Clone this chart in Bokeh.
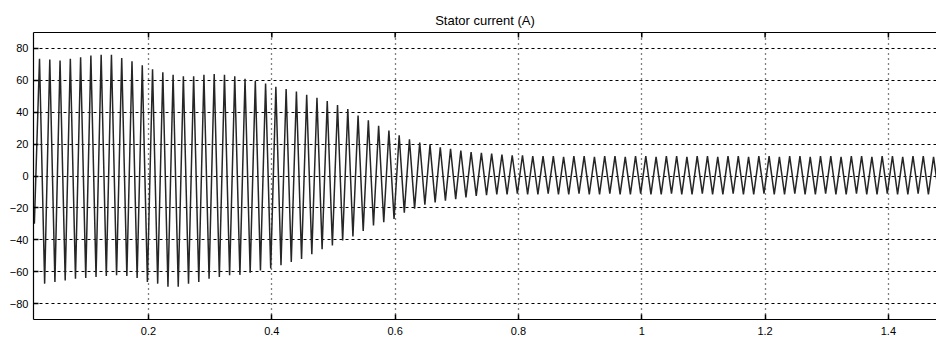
import numpy as np
from bokeh.plotting import figure
from bokeh.models import Range1d, LinearAxis, FixedTicker
from bokeh.embed import file_html
from bokeh.resources import INLINE

title_text = "Stator current (A)"
freq_hz = 60.0            # supply frequency (12 cycles per 0.2 s)
first_peak_time = 0.0232  # time of the first positive peak (s)

x_ticks = [0.2, 0.4, 0.6, 0.8, 1, 1.2, 1.4]
x_tick_labels = ["0.2", "0.4", "0.6", "0.8", "1", "1.2", "1.4"]
y_ticks = [-80, -60, -40, -20, 0, 20, 40, 60, 80]

# positive peak of each cycle (A)
upper_peaks = [
    73.5, 73.0, 72.5, 73.5, 74.5, 75.5, 76.0, 76.0, 74.0, 72.0,
    69.5, 67.0, 65.0, 63.5, 62.5, 62.5, 63.5, 64.0, 63.5, 62.5,
    61.0, 59.5, 58.0, 56.0, 54.5, 53.0, 51.0, 49.0, 47.0, 44.5,
    42.0, 38.0, 35.0, 31.5, 28.5, 25.5, 23.0, 21.0, 19.5, 18.0,
    17.0, 16.0, 15.0, 14.5, 14.0, 13.5, 13.0, 13.0, 12.5, 12.5,
    12.5, 12.0, 12.5, 12.5, 12.0, 12.5, 12.5, 12.0, 12.5, 12.5,
    12.0, 12.5, 12.5, 12.0, 12.5, 12.5, 12.0, 12.5, 12.5, 12.0,
    12.5, 12.5, 12.0, 12.5, 12.5, 12.0, 12.5, 12.5, 12.0, 12.5,
    12.5, 12.0, 12.5, 12.5, 12.0, 12.5, 12.5, 12.0,
]
# negative peak of each cycle (A), starting half a cycle before the first positive peak
lower_peaks = [
    -30.0, -67.5, -66.5, -65.5, -64.5, -64.0, -63.3, -62.7, -62.3, -62.7,
    -64.0, -66.5, -67.5, -69.5, -69.5, -67.5, -66.5, -64.5, -63.3, -62.3,
    -62.0, -60.6, -59.2, -58.0, -56.0, -54.0, -52.0, -49.0, -46.0, -43.5,
    -40.5, -38.0, -34.5, -31.0, -29.0, -27.0, -23.0, -20.5, -18.0, -16.5,
    -15.5, -14.5, -13.5, -12.5, -12.0, -11.5, -11.5, -11.0, -11.5, -11.5,
    -11.0, -11.5, -11.5, -11.0, -11.5, -11.5, -11.0, -11.5, -11.5, -11.0,
    -11.5, -11.5, -11.0, -11.5, -11.5, -11.0, -11.5, -11.5, -11.0, -11.5,
    -11.5, -11.0, -11.5, -11.5, -11.0, -11.5, -11.5, -11.0, -11.5, -11.5,
    -11.0, -11.5, -11.5, -11.0, -11.5, -11.5, -11.0, -11.5, -11.5,
]

# peak instants: positive peaks every period, negative peaks half a period earlier
t_up = first_peak_time + np.arange(len(upper_peaks)) / freq_hz
t_lo = first_peak_time - 0.5 / freq_hz + np.arange(len(lower_peaks)) / freq_hz
t_all = np.concatenate([t_up, t_lo])
v_all = np.concatenate([upper_peaks, lower_peaks])
order = np.argsort(t_all)
t_all = t_all[order]
v_all = v_all[order]

FONT = "Liberation Sans"
X0, X1 = 0.01346, 1.478
Y0, Y1 = -90, 90
FRAME_H = 338 - 32 - 19

p = figure(width=936, height=338,
           x_range=Range1d(X0, X1), y_range=Range1d(Y0, Y1),
           output_backend="svg", toolbar_location=None,
           min_border_left=33, min_border_right=0, min_border_bottom=19, min_border_top=32)
p.outline_line_color = None
p.background_fill_color = "white"
p.border_fill_color = "white"

p.line(t_all, v_all, line_color="#262626", line_width=1.5)

# inward tick marks along the top border (5 px long)
tick_len = 5 * (Y1 - Y0) / FRAME_H
p.segment(x0=x_ticks, y0=[Y1] * len(x_ticks), x1=x_ticks, y1=[Y1 - tick_len] * len(x_ticks),
          line_color="black", line_width=1.5)

# axes
for ax in (p.xaxis[0], p.yaxis[0]):
    ax.axis_line_color = "black"
    ax.axis_line_width = 1.2
    ax.major_tick_in = 5
    ax.major_tick_out = 0
    ax.major_tick_line_color = "black"
    ax.major_tick_line_width = 1.5
    ax.minor_tick_line_color = None
    ax.major_label_text_font = FONT
    ax.major_label_text_font_size = "11px"
    ax.major_label_text_color = "black"

p.xaxis[0].ticker = FixedTicker(ticks=x_ticks)
p.xaxis[0].major_label_overrides = dict(zip(x_ticks, x_tick_labels))
p.xaxis[0].major_label_standoff = 7
p.yaxis[0].ticker = FixedTicker(ticks=y_ticks)
p.yaxis[0].major_label_standoff = 5

top_axis = LinearAxis(ticker=FixedTicker(ticks=[]),
                      axis_line_color="black", axis_line_width=1.2,
                      major_tick_line_color=None, minor_tick_line_color=None)
p.add_layout(top_axis, "above")

# grid
p.xgrid.ticker = FixedTicker(ticks=x_ticks)
p.xgrid.grid_line_color = "black"
p.xgrid.grid_line_dash = "1 4"
p.xgrid.grid_line_width = 1.3
p.ygrid.ticker = FixedTicker(ticks=y_ticks)
p.ygrid.grid_line_color = "black"
p.ygrid.grid_line_dash = "3 3"
p.ygrid.grid_line_width = 1

# title
p.title.text = title_text
p.title.align = "center"
p.title.offset = 3.5
p.title.text_font = FONT
p.title.text_font_size = "13px"
p.title.text_font_style = "normal"
p.title.text_color = "black"
p.title.standoff = 10

open("out.html", "w").write(file_html(p, INLINE))
